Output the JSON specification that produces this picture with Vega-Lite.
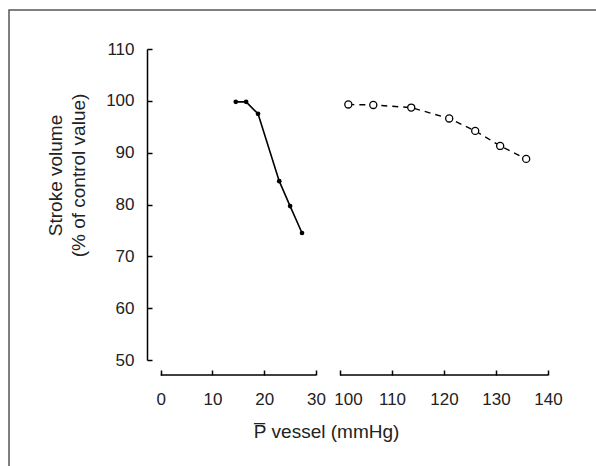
{
  "$schema": "https://vega.github.io/schema/vega-lite/v6.json",
  "width": 597,
  "height": 466,
  "autosize": {"type": "none"},
  "padding": {"left": 9, "top": 10, "right": -10, "bottom": -10},
  "background": "white",
  "config": {
    "view": {"stroke": "#555", "strokeWidth": 1.5},
    "font": "Liberation Sans",
    "axis": {"labelColor": "#222", "titleColor": "#222", "grid": false}
  },
  "datasets": {
    "pts": [
      {"series": "low", "p": 14.5, "sv": 99.8},
      {"series": "low", "p": 16.5, "sv": 99.8},
      {"series": "low", "p": 18.8, "sv": 97.5},
      {"series": "low", "p": 22.9, "sv": 84.5},
      {"series": "low", "p": 25.0, "sv": 79.7},
      {"series": "low", "p": 27.3, "sv": 74.5},
      {"series": "high", "p": 101.6, "sv": 99.3},
      {"series": "high", "p": 106.4, "sv": 99.2},
      {"series": "high", "p": 113.7, "sv": 98.7},
      {"series": "high", "p": 121.0, "sv": 96.6},
      {"series": "high", "p": 126.0, "sv": 94.2},
      {"series": "high", "p": 130.8, "sv": 91.3},
      {"series": "high", "p": 135.8, "sv": 88.8}
    ],
    "segs": [
      {"from": 0, "to": 30},
      {"from": 100, "to": 140}
    ]
  },
  "layer": [
    {
      "data": {"name": "segs"},
      "mark": {"type": "rule", "color": "black", "strokeWidth": 1.5},
      "encoding": {
        "x": {
          "field": "from", "type": "quantitative",
          "scale": {"domain": [0, 30, 100, 140], "range": [151.7, 307, 331, 539], "zero": false, "nice": false},
          "axis": {
            "title": "P̅ vessel (mmHg)",
            "values": [0, 10, 20, 30, 100, 110, 120, 130, 140],
            "domain": false,
            "tickSize": -5, "tickColor": "black", "tickWidth": 1.5,
            "labelPadding": 21, "labelFontSize": 17, "labelFlush": false, "labelOverlap": false,
            "labelOffset": {"condition": {"test": "datum.value === 100", "value": 8}, "value": 0},
            "offset": -101,
            "titleFontSize": 19, "titleFontWeight": "normal",
            "titleX": 317, "titleY": 62, "titleBaseline": "alphabetic", "titleAlign": "center", "titleAnchor": null
          }
        },
        "x2": {"field": "to"},
        "y": {
          "datum": 47.1, "type": "quantitative",
          "scale": {"domain": [50, 110], "range": [350, 39], "zero": false, "nice": false},
          "axis": {
            "title": ["Stroke volume", "(% of control value)"],
            "values": [50, 60, 70, 80, 90, 100, 110],
            "domainColor": "black", "domainWidth": 1.5,
            "tickSize": -5, "tickColor": "black", "tickWidth": 1.5,
            "labelPadding": 18, "labelFontSize": 17,
            "offset": -138,
            "titleFontSize": 19, "titleFontWeight": "normal",
            "titleAngle": -90, "titleX": -92, "titleY": 165,
            "titleBaseline": "middle", "titleAlign": "center", "titleLineHeight": 23, "titleAnchor": null
          }
        }
      }
    },
    {
      "data": {"name": "pts"},
      "transform": [{"filter": "datum.series === 'low'"}],
      "mark": {"type": "line", "color": "black", "strokeWidth": 1.6},
      "encoding": {
        "x": {"field": "p", "type": "quantitative"},
        "y": {"field": "sv", "type": "quantitative"}
      }
    },
    {
      "data": {"name": "pts"},
      "transform": [{"filter": "datum.series === 'low'"}],
      "mark": {"type": "point", "shape": "circle", "filled": true, "color": "black", "size": 22, "opacity": 1},
      "encoding": {
        "x": {"field": "p", "type": "quantitative"},
        "y": {"field": "sv", "type": "quantitative"}
      }
    },
    {
      "data": {"name": "pts"},
      "transform": [{"filter": "datum.series === 'high'"}],
      "mark": {"type": "line", "color": "black", "strokeWidth": 1.4, "strokeDash": [6, 5]},
      "encoding": {
        "x": {"field": "p", "type": "quantitative"},
        "y": {"field": "sv", "type": "quantitative"}
      }
    },
    {
      "data": {"name": "pts"},
      "transform": [{"filter": "datum.series === 'high'"}],
      "mark": {"type": "point", "shape": "circle", "filled": true, "fill": "white", "stroke": "black", "strokeWidth": 1.3, "size": 50, "opacity": 1},
      "encoding": {
        "x": {"field": "p", "type": "quantitative"},
        "y": {"field": "sv", "type": "quantitative"}
      }
    }
  ]
}
